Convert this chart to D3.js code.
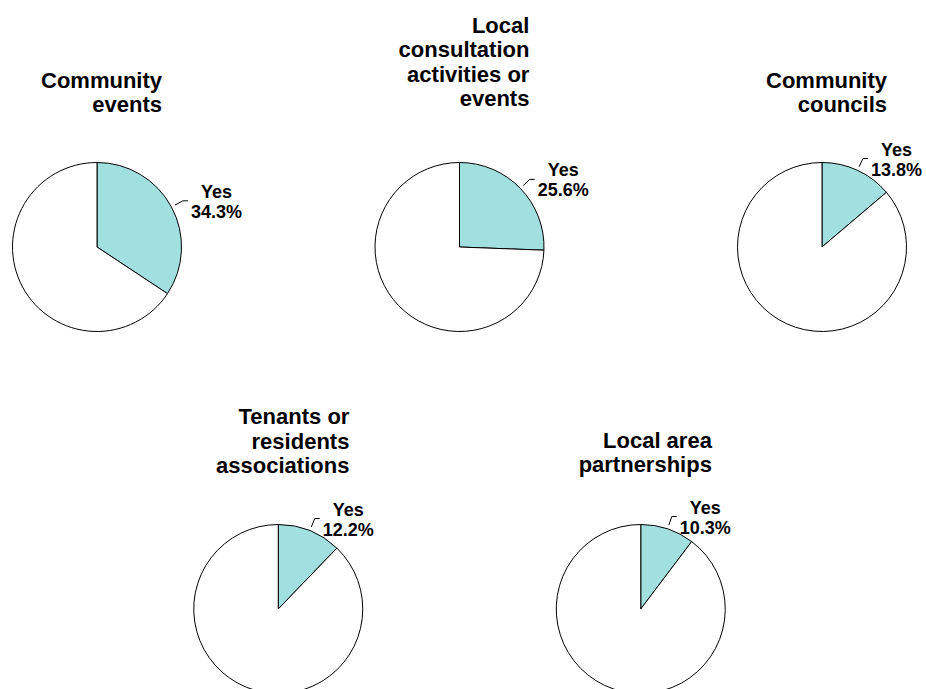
<!DOCTYPE html>
<html>
<head>
<meta charset="utf-8">
<script src="https://cdn.jsdelivr.net/npm/d3@7"></script>
<style>
  html, body { margin: 0; padding: 0; background: #fff; }
  svg { display: block; }
  text { font-family: "Liberation Sans", Arial, Helvetica, sans-serif; font-weight: bold; fill: #000; }
</style>
</head>
<body>
<svg id="chart" width="926" height="689"></svg>
<script>
// ---- data ----
const titles = [
  ["Community", "events"],
  ["Local", "consultation", "activities or", "events"],
  ["Community", "councils"],
  ["Tenants or", "residents", "associations"],
  ["Local area", "partnerships"]
];
const categories = ["Yes", "No"];
const yesValues = [34.3, 25.6, 13.8, 12.2, 10.3];
const noValues  = [65.7, 74.4, 86.2, 87.8, 89.7];

// ---- layout (positions kept separate from data) ----
const W = 926, H = 689;
const R = 84.5;
const colStep = 362.5, rowStep = 362;
const layout = [
  { cx: 97,            cy: 247,           titleBottom: -135 },
  { cx: 97 + colStep,  cy: 247,           titleBottom: -141 },
  { cx: 97 + 2*colStep,cy: 247,           titleBottom: -135 },
  { cx: 278.25,        cy: 247 + rowStep, titleBottom: -136 },
  { cx: 278.25+colStep,cy: 247 + rowStep, titleBottom: -137 }
];
const titleSize = 22, titleLead = 24.5, labelSize = 18;
const yesColor = "#a2e0e0";

const svg = d3.select("#chart");
const color = d3.scaleOrdinal().domain(categories).range([yesColor, "#ffffff"]);
const pie = d3.pie().sort(null).value(d => d.value).startAngle(0).endAngle(2 * Math.PI);
const arc = d3.arc().innerRadius(0).outerRadius(R);

titles.forEach((lines, i) => {
  const L = layout[i];
  const g = svg.append("g").attr("transform", `translate(${L.cx},${L.cy})`);
  const data = [
    { cat: categories[0], value: yesValues[i] },
    { cat: categories[1], value: noValues[i] }
  ];
  const arcs = pie(data);

  g.selectAll("path.slice").data(arcs).join("path")
    .attr("class", "slice")
    .attr("d", arc)
    .attr("fill", d => color(d.data.cat))
    .attr("stroke", "#000")
    .attr("stroke-width", 1)
    .attr("stroke-linejoin", "round");

  // Title: block centered slightly right of pie centre, lines right-aligned
  const tg = g.append("g");
  const tl = tg.selectAll("text").data(lines).join("text")
    .attr("font-size", titleSize)
    .attr("text-anchor", "end")
    .text(d => d);
  let maxW = 0;
  tl.each(function() { maxW = Math.max(maxW, this.getComputedTextLength()); });
  const right = 4.5 + maxW / 2;
  const n = lines.length;
  tl.attr("x", right)
    .attr("y", (d, k) => L.titleBottom - (n - 1 - k) * titleLead);

  // Data label for the "Yes" slice with leader line
  const a = arcs[0];
  const mid = (a.startAngle + a.endAngle) / 2;
  const pt = r => [Math.sin(mid) * r, -Math.cos(mid) * r];
  const p0 = pt(R + 4);
  const p1 = pt(R + 13);
  const p2 = [p1[0] + 5, p1[1]];
  g.append("path")
    .attr("d", d3.line()([p0, p1, p2]))
    .attr("fill", "none")
    .attr("stroke", "#000")
    .attr("stroke-width", 1);

  const pct = g.append("text")
    .attr("font-size", labelSize)
    .attr("text-anchor", "start")
    .attr("x", p2[0] + 3)
    .attr("y", p2[1] + 17)
    .text(d3.format(".1f")(yesValues[i]) + "%");
  const pw = pct.node().getComputedTextLength();
  g.append("text")
    .attr("font-size", labelSize)
    .attr("text-anchor", "middle")
    .attr("x", p2[0] + 3 + pw / 2)
    .attr("y", p2[1] - 3)
    .text(categories[0]);
});
</script>
</body>
</html>
